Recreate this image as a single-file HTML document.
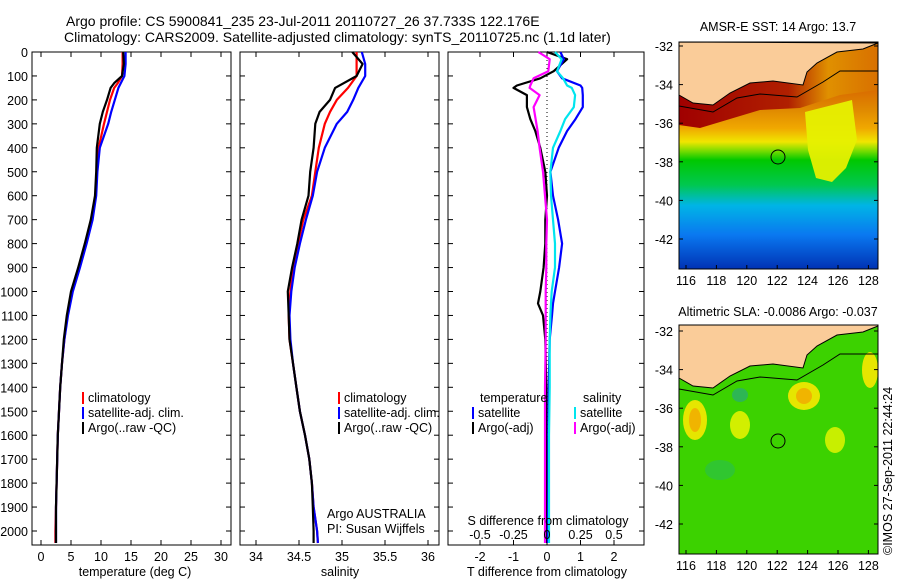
<!DOCTYPE html>
<html><head><meta charset="utf-8">
<style>
html,body{margin:0;padding:0;background:#fff;}
svg{display:block;font-family:"Liberation Sans",sans-serif;}
text{font-size:12.5px;fill:#000;}
</style></head>
<body>
<svg id="fig" width="900" height="580" viewBox="0 0 900 580" xmlns="http://www.w3.org/2000/svg">
<text x="66" y="26" style="font-size:14px">Argo profile: CS 5900841_235 23-Jul-2011 20110727_26 37.733S 122.176E</text>
<text x="64" y="42" style="font-size:14px">Climatology: CARS2009. Satellite-adjusted climatology: synTS_20110725.nc (1.1d later)</text>
<g id="g1"></g>
<g id="g2"></g>
<g id="g3"></g>

<!-- SST map -->
<g>
<text x="778" y="31" text-anchor="middle">AMSR-E SST: 14 Argo: 13.7</text>
<defs>
<linearGradient id="sstg" x1="0" y1="0" x2="0" y2="1">
<stop offset="0.2" stop-color="#d86800"/><stop offset="0.3" stop-color="#e08a00"/><stop offset="0.38" stop-color="#f0a800"/>
<stop offset="0.44" stop-color="#f0e600"/><stop offset="0.48" stop-color="#78dc00"/><stop offset="0.52" stop-color="#00c800"/>
<stop offset="0.63" stop-color="#00c850"/><stop offset="0.72" stop-color="#00b4e6"/><stop offset="0.85" stop-color="#0a78f0"/>
<stop offset="1" stop-color="#0032b4"/></linearGradient>
<linearGradient id="band" x1="0" y1="0" x2="1" y2="0"><stop offset="0" stop-color="#a00000"/><stop offset="0.55" stop-color="#b02000"/><stop offset="0.75" stop-color="#e09000"/><stop offset="1" stop-color="#d87000"/></linearGradient>
</defs>
<rect x="679" y="42" width="199" height="227" fill="url(#sstg)"/>
<path d="M805,112 L852,100 L857,140 L846,168 L832,182 L816,178 L808,150 Z" fill="#e6f000" opacity="0.95"/>
<path d="M679,95 L693,103 L713,105 L730,93 L750,83 L773,81 L803,85 L807,72 L817,63 L837,52 L863,49 L878,43 L878,90 L840,95 L800,108 L760,110 L720,122 L700,128 L679,125 Z" fill="url(#band)"/>
<path d="M679,42 L679,95 L693,103 L713,105 L730,93 L750,83 L773,81 L803,85 L807,72 L817,63 L837,52 L863,49 L878,43 Z" fill="#facc99" stroke="#000" stroke-width="1"/>
<path d="M679,106 L713,112 L737,98 L760,94 L797,97 L823,82 L840,71 L878,71" fill="none" stroke="#000" stroke-width="1"/>
<circle cx="778" cy="157" r="7" fill="none" stroke="#000"/>
<rect x="679" y="42" width="199" height="227" fill="none" stroke="#000"/>
</g>
<!-- SLA map -->
<g>
<text x="778" y="316" text-anchor="middle">Altimetric SLA: -0.0086 Argo: -0.037</text>
<rect x="679" y="325" width="199" height="229" fill="#3cd200"/>
<ellipse cx="695" cy="420" rx="12" ry="20" fill="#e6e600"/><ellipse cx="695" cy="420" rx="6" ry="12" fill="#f0b400"/>
<ellipse cx="740" cy="425" rx="10" ry="14" fill="#d2ef00"/>
<ellipse cx="804" cy="396" rx="16" ry="14" fill="#e6e600"/><ellipse cx="804" cy="396" rx="8" ry="8" fill="#f0b400"/>
<ellipse cx="835" cy="440" rx="10" ry="13" fill="#c8ef00"/>
<ellipse cx="870" cy="370" rx="8" ry="18" fill="#e6e600"/>
<ellipse cx="720" cy="470" rx="15" ry="10" fill="#28be50" opacity="0.6"/>
<ellipse cx="740" cy="395" rx="8" ry="7" fill="#28aa78" opacity="0.7"/>
<path d="M679,325 L679,378 L693,386 L713,388 L730,376 L750,366 L773,364 L803,368 L807,355 L817,346 L837,335 L863,332 L878,326 L878,325 Z" fill="#facc99" stroke="#000" stroke-width="1"/>
<path d="M679,389 L713,395 L737,381 L760,377 L797,380 L823,365 L840,354 L878,354" fill="none" stroke="#000" stroke-width="1"/>
<circle cx="778" cy="441" r="7" fill="none" stroke="#000"/>
<rect x="679" y="325" width="199" height="229" fill="none" stroke="#000"/>
</g>
<text transform="translate(892,555) rotate(-90)">©IMOS 27-Sep-2011 22:44:24</text>
<g id="mapaxes"></g>
</svg>
<script>
// ---- data ----
const depthLabels = [0,100,200,300,400,500,600,700,800,900,1000,1100,1200,1300,1400,1500,1600,1700,1800,1900,2000];
const tTicks = [0,5,10,15,20,25,30];
const sTicks = [34,34.5,35,35.5,36];
const dTTicks = [-2,-1,0,1,2];
const dSTicks = [-0.5,-0.25,0,0.25,0.5];
const dSTickLabels = ['-0.5','-0.25','0','0.25','0.5'];
const latTicks = [-32,-34,-36,-38,-40,-42];
const lonTicks = [116,118,120,122,124,126,128];

const tDepth = [0,50,100,130,150,200,250,300,400,500,600,700,800,900,1000,1100,1200,1300,1400,1500,1600,1700,1800,1900,2000,2050];
const tArgo  = [13.7,13.8,13.5,12.2,11.6,11.0,10.3,9.8,9.3,9.2,9.0,8.3,7.3,6.2,5.0,4.3,3.8,3.5,3.2,3.0,2.8,2.7,2.6,2.5,2.5,2.5];
const tClim  = [13.6,13.6,13.5,12.8,12.2,11.5,11.0,10.5,9.6,9.3,9.1,8.5,7.5,6.4,5.2,4.4,3.9,3.5,3.2,3.0,2.8,2.7,2.6,2.5,2.4,2.4];
const tSat   = [14.1,14.1,13.9,13.3,12.9,12.3,11.7,11.2,9.8,9.4,9.2,8.6,7.6,6.5,5.3,4.5,3.9,3.5,3.2,3.0,2.8,2.7,2.6,2.5,2.5,2.5];

const sDepth = [0,50,100,150,200,250,300,400,500,600,700,800,900,1000,1100,1200,1300,1400,1500,1600,1700,1800,1900,2000,2050];
const sArgo  = [35.12,35.24,35.17,34.92,34.86,34.74,34.69,34.67,34.63,34.61,34.53,34.48,34.42,34.37,34.38,34.39,34.43,34.47,34.51,34.57,34.62,34.65,34.66,34.67,34.67];
const sClim  = [35.17,35.17,35.17,35.07,34.94,34.86,34.80,34.73,34.69,34.65,34.55,34.49,34.43,34.40,34.38,34.39,34.43,34.47,34.51,34.57,34.62,34.65,34.67,34.71,34.72];
const sSat   = [35.23,35.27,35.27,35.19,35.13,35.06,34.94,34.80,34.71,34.66,34.58,34.51,34.45,34.41,34.39,34.40,34.43,34.47,34.51,34.57,34.62,34.65,34.67,34.71,34.72];

const dDepth = [0,30,80,110,140,150,180,230,280,330,400,500,600,700,800,900,1000,1050,1100,1200,1400,1600,1800,2000,2050];
const dTArgo = [0.0,0.6,0.2,-0.2,-0.9,-1.0,-0.6,-0.6,-0.5,-0.35,-0.2,-0.05,0.0,-0.05,-0.05,-0.1,-0.2,-0.27,-0.12,-0.05,-0.02,-0.02,0.0,0.0,0.0];
const dTSat  = [0.4,0.5,0.3,0.45,1.0,1.05,1.07,1.07,0.85,0.6,0.35,0.1,0.18,0.33,0.45,0.36,0.24,0.18,0.15,0.08,0.05,0.04,0.04,0.03,0.03];
const dSSat  = [0.06,0.11,0.075,0.12,0.15,0.185,0.21,0.20,0.135,0.10,0.045,0.025,0.03,0.045,0.06,0.06,0.035,0.03,0.025,0.02,0.02,0.015,0.015,0.015,0.015];
const dSArgo = [-0.065,0.02,0.01,-0.1,-0.125,-0.13,-0.055,-0.1,-0.085,-0.07,-0.055,-0.03,-0.015,0.0,-0.005,-0.005,-0.01,-0.01,-0.01,-0.01,-0.015,-0.015,-0.015,-0.015,-0.015];

// ---- axes ----
const NS='http://www.w3.org/2000/svg';
const TOP=52, BOT=545;
const yD = d => TOP + d*0.2395;
const xT = v => 41 + v*6;
const xS = v => 256 + (v-34)*86;
const xDT = v => 547 + v*33.5;
const xDS = v => 547 + v*134;
const yLat = (lat,y0) => y0 + (-32-lat)*19.3;
const xLon = lon => 686 + (lon-116)*15.2;

function el(tag, attrs, parent, txt){
  const e=document.createElementNS(NS,tag);
  for(const k in attrs) e.setAttribute(k, attrs[k]);
  if(txt!==undefined) e.textContent=txt;
  parent.appendChild(e); return e;
}
function path(xs, ds, xf, color, parent, name, w){
  let d='';
  for(let i=0;i<ds.length;i++){ d+=(i?'L':'M')+xf(xs[i]).toFixed(1)+','+yD(ds[i]).toFixed(1); }
  const p=el('path',{d:d,fill:'none',stroke:color,'stroke-width':w||2.2,'stroke-linejoin':'round'},parent);
  
  
}
function panel(g, x0, x1, ticksX, xf, labels, labelY){
  el('rect',{x:x0,y:TOP,width:x1-x0,height:BOT-TOP,fill:'none',stroke:'#000'},g);
  depthLabels.forEach(d=>{
    el('line',{x1:x0,x2:x0+5,y1:yD(d),y2:yD(d),stroke:'#000'},g);
    el('line',{x1:x1,x2:x1-5,y1:yD(d),y2:yD(d),stroke:'#000'},g);
  });
  ticksX.forEach((v,i)=>{
    const x=xf(v);
    el('line',{x1:x,x2:x,y1:TOP,y2:TOP+5,stroke:'#000'},g);
    el('line',{x1:x,x2:x,y1:BOT,y2:BOT-5,stroke:'#000'},g);
    const t=el('text',{x:x,y:labelY,'text-anchor':'middle'},g,labels?labels[i]:String(v));
    
    
  });
}
const g1=document.getElementById('g1'), g2=document.getElementById('g2'), g3=document.getElementById('g3');
depthLabels.forEach(d=>{
  const t=el('text',{x:28,y:yD(d)+5,'text-anchor':'end'},g1,String(d));
  
  
});
panel(g1,32,231,tTicks,xT,null,561);
panel(g2,240,439,sTicks,xS,null,561);
panel(g3,448,644,dTTicks,xDT,null,561);

el('line',{x1:547,x2:547,y1:TOP,y2:BOT,stroke:'#000','stroke-dasharray':'1,3'},g3);

path(tClim,tDepth,xT,'#ff0000',g1,'temp-climatology-line');
path(tSat,tDepth,xT,'#0000ff',g1,'temp-satellite-line');
path(tArgo,tDepth,xT,'#000000',g1,'temp-argo-line');
path(sClim,sDepth,xS,'#ff0000',g2,'sal-climatology-line');
path(sSat,sDepth,xS,'#0000ff',g2,'sal-satellite-line');
path(sArgo,sDepth,xS,'#000000',g2,'sal-argo-line');
path(dTArgo,dDepth,xDT,'#000000',g3,'dT-argo-line');
path(dSArgo,dDepth,xDS,'#ff00ff',g3,'dS-argo-line');
path(dTSat,dDepth,xDT,'#0000ff',g3,'dT-satellite-line');
path(dSSat,dDepth,xDS,'#00e5ee',g3,'dS-satellite-line');

// axis titles
[[g1,135,'temperature (deg C)','temp-axis-title'],[g2,340,'salinity','salinity-axis-title'],[g3,547,'T difference from climatology','dT-axis-title']].forEach(a=>{
  const t=el('text',{x:a[1],y:576,'text-anchor':'middle'},a[0],a[2]);
  
  
});
const st=el('text',{x:548,y:525,'text-anchor':'middle'},g3,'S difference from climatology');


dSTicks.forEach((v,i)=>{
  const t=el('text',{x:xDS(v),y:539,'text-anchor':'middle'},g3,dSTickLabels[i]);
  
  
});

// legends
function legend(g,x,y,color,label){
  const r=el('rect',{x:x,y:y-10,width:2,height:12,fill:color},g);
  
  
  const t=el('text',{x:x+6,y:y},g,label);
  
  
}
[[g1,82],[g2,338]].forEach(a=>{
  legend(a[0],a[1],402,'#ff0000','climatology');
  legend(a[0],a[1],417,'#0000ff','satellite-adj. clim.');
  legend(a[0],a[1],432,'#000000','Argo(..raw -QC)');
});
const lt=el('text',{x:480,y:402},g3,'temperature');


const ls=el('text',{x:583,y:402},g3,'salinity');


legend(g3,472,417,'#0000ff','satellite');
legend(g3,472,432,'#000000','Argo(-adj)');
legend(g3,574,417,'#00e5ee','satellite');
legend(g3,574,432,'#ff00ff','Argo(-adj)');
const a1=el('text',{x:327,y:518},g2,'Argo AUSTRALIA');


const a2=el('text',{x:327,y:533},g2,'PI: Susan Wijffels');



// map axes
const ma=document.getElementById('mapaxes');
[[46,269],[331,554]].forEach(m=>{
  latTicks.forEach(l=>{
    const y=yLat(l,m[0]);
    el('line',{x1:679,x2:683,y1:y,y2:y,stroke:'#000'},ma);
    el('line',{x1:878,x2:874,y1:y,y2:y,stroke:'#000'},ma);
    const t=el('text',{x:673,y:y+5,'text-anchor':'end'},ma,String(l));
    
    
  });
  lonTicks.forEach(l=>{
    const x=xLon(l);
    el('line',{x1:x,x2:x,y1:m[1],y2:m[1]-4,stroke:'#000'},ma);
    const t=el('text',{x:x,y:m[1]+16,'text-anchor':'middle'},ma,String(l));
    
    
  });
});
</script>
</body></html>
